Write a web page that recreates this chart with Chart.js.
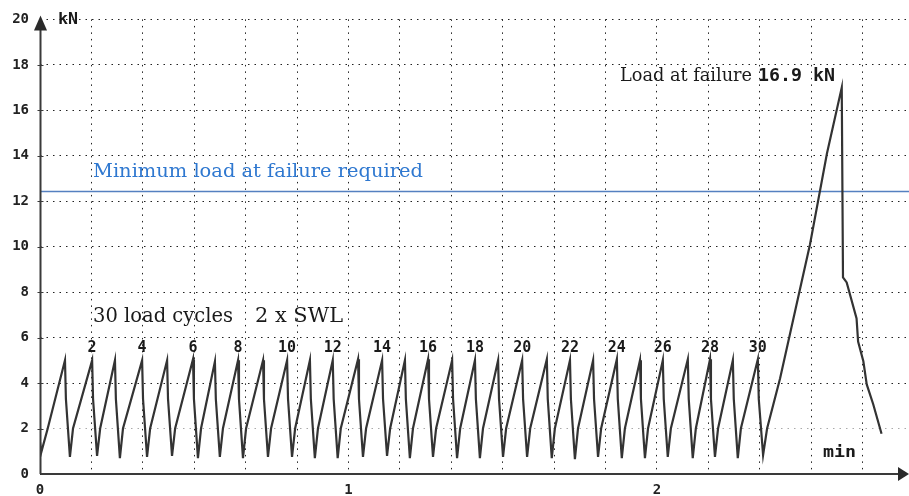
<!DOCTYPE html>
<html>
<head>
<meta charset="utf-8">
<script src="https://cdn.jsdelivr.net/npm/chart.js@4.4.1/dist/chart.umd.min.js"></script>
<style>
  html, body { margin: 0; padding: 0; background: #fff; }
  #wrap { width: 909px; height: 496px; }
</style>
</head>
<body>
<div id="wrap"><canvas id="loadChart" width="909" height="496"></canvas></div>
<script>
'use strict';

// Load test trace: time in minutes, load in kN
const startTimes = [0, 0.004, 0.025];
const startLoads = [1.4, 0.95, 2.0];

// the 30 load cycles (2 x SWL)
const peakTimes = [0.081, 0.169, 0.243, 0.331, 0.412, 0.496, 0.567, 0.642, 0.723, 0.801,
                   0.875, 0.949, 1.031, 1.109, 1.183, 1.258, 1.336, 1.410, 1.485, 1.563,
                   1.643, 1.718, 1.793, 1.870, 1.945, 2.019, 2.100, 2.172, 2.246, 2.327];
const peakLoads = [5.0, 5.0, 5.0, 5.0, 5.0, 5.05, 4.95, 5.0, 5.0, 5.0,
                   5.0, 5.0, 5.05, 5.0, 5.0, 5.05, 5.0, 5.0, 5.0, 5.0,
                   5.05, 5.0, 5.0, 5.05, 5.0, 5.0, 5.05, 5.05, 5.0, 5.05];
const minTimes = [0.097, 0.185, 0.259, 0.347, 0.428, 0.512, 0.583, 0.658, 0.739, 0.817,
                  0.891, 0.965, 1.047, 1.125, 1.199, 1.274, 1.352, 1.426, 1.501, 1.579,
                  1.659, 1.734, 1.809, 1.886, 1.961, 2.035, 2.116, 2.188, 2.262, 2.344];
const minLoads = [0.75, 0.8, 0.7, 0.75, 0.8, 0.7, 0.75, 0.7, 0.75, 0.75,
                  0.7, 0.7, 0.75, 0.8, 0.7, 0.75, 0.7, 0.7, 0.75, 0.75,
                  0.7, 0.65, 0.75, 0.7, 0.7, 0.75, 0.7, 0.75, 0.7, 0.83];
const dropLoad = 3.3;      // where the near-vertical fall after each peak ends
const shoulderLoad = 2.0;  // small kink on the way back up

// final ramp to failure and the fall after it
const failureTimes = [2.357, 2.399, 2.463, 2.496, 2.551, 2.599, 2.603, 2.615, 2.647, 2.652, 2.669, 2.680, 2.701, 2.728];
const failureLoads = [2.0, 4.2, 8.1, 10.1, 14.1, 17.0, 8.65, 8.43, 6.84, 5.83, 4.96, 3.94, 3.07, 1.77];

const requiredLoad = 12.43;
const cycleLabels = [2, 4, 6, 8, 10, 12, 14, 16, 18, 20, 22, 24, 26, 28, 30];
const xTickMinutes = [0, 1, 2];

const X_MAX = 2.817;
const GRID_STEP = 1 / 6;

// build the trace
var trace = [];
startTimes.forEach(function (t, i) { trace.push({ x: t, y: startLoads[i] }); });
peakTimes.forEach(function (t, i) {
  trace.push({ x: t, y: peakLoads[i] });
  trace.push({ x: t + 0.003, y: dropLoad });
  trace.push({ x: minTimes[i], y: minLoads[i] });
  if (i < peakTimes.length - 1) trace.push({ x: minTimes[i] + 0.01, y: shoulderLoad });
});
failureTimes.forEach(function (t, i) { trace.push({ x: t, y: failureLoads[i] }); });

// draws text at a fixed font size, squeezed or stretched sideways to the wanted width
function stretchText(ctx, text, x, y, width, font) {
  ctx.font = font;
  var w = ctx.measureText(text).width;
  ctx.save();
  ctx.translate(x, y);
  ctx.scale(width / w, 1);
  ctx.fillText(text, 0, 0);
  ctx.restore();
}

const decorations = {
  id: 'decorations',
  afterDatasetsDraw: function (chart) {
    const ctx = chart.ctx;
    const area = chart.chartArea;
    const xs = chart.scales.x, ys = chart.scales.y;
    const x0 = area.left + 0.5, y0 = area.bottom;
    ctx.save();

    // axes with arrow heads
    ctx.strokeStyle = '#3a3a3a';
    ctx.fillStyle = '#2a2a2a';
    ctx.lineWidth = 2;
    ctx.beginPath();
    ctx.moveTo(x0, y0); ctx.lineTo(x0, area.top + 10);
    ctx.moveTo(x0, y0); ctx.lineTo(area.right - 8, y0);
    ctx.stroke();
    ctx.beginPath();
    ctx.moveTo(x0, area.top - 4); ctx.lineTo(x0 - 6.5, area.top + 11); ctx.lineTo(x0 + 6.5, area.top + 11);
    ctx.closePath(); ctx.fill();
    ctx.beginPath();
    ctx.moveTo(area.right, y0); ctx.lineTo(area.right - 11, y0 - 7); ctx.lineTo(area.right - 11, y0 + 7);
    ctx.closePath(); ctx.fill();
    // small ticks on the load axis
    ctx.lineWidth = 1;
    for (var v = 2; v <= 18; v += 2) {
      var py = Math.round(ys.getPixelForValue(v)) + 0.5;
      ctx.beginPath(); ctx.moveTo(x0 - 3, py); ctx.lineTo(x0 + 3, py); ctx.stroke();
    }

    // cycle numbers over the even peaks
    ctx.fillStyle = '#1a1a1a';
    ctx.textAlign = 'center';
    ctx.textBaseline = 'middle';
    ctx.font = 'bold 15px "DejaVu Sans Mono"';
    cycleLabels.forEach(function (n) {
      ctx.fillText(String(n), xs.getPixelForValue(peakTimes[n - 1]), ys.getPixelForValue(5.52));
    });

    // texts
    ctx.textAlign = 'left';
    ctx.textBaseline = 'alphabetic';
    ctx.fillStyle = '#1a1a1a';
    stretchText(ctx, 'kN', 58, 24, 20, 'bold 16px "DejaVu Sans Mono"');
    stretchText(ctx, 'min', 823, 457, 33, 'bold 16px "DejaVu Sans Mono"');
    stretchText(ctx, '16.9 kN', 758, 81, 77, 'bold 18px "DejaVu Sans Mono"');
    stretchText(ctx, '30 load cycles', 93, 322, 140, '20px "DejaVu Serif"');
    stretchText(ctx, '2 x SWL', 255, 322, 88, '20px "DejaVu Serif"');
    stretchText(ctx, 'Load at failure', 620, 81, 132, '19px "DejaVu Serif"');
    ctx.fillStyle = '#2f78d0';
    stretchText(ctx, 'Minimum load at failure required', 93, 177, 330, '19px "DejaVu Serif"');
    ctx.restore();
  }
};

var ctx = document.getElementById('loadChart');
var loadChart = new Chart(ctx, {
  type: 'line',
  data: {
    datasets: [{
      label: 'Load',
      data: trace,
      borderColor: '#333',
      borderWidth: 2.2,
      pointRadius: 0,
      tension: 0
    }, {
      label: 'Minimum load at failure required',
      data: [{ x: 0, y: requiredLoad }, { x: X_MAX, y: requiredLoad }],
      borderColor: '#5580c0',
      borderWidth: 1.5,
      pointRadius: 0
    }]
  },
  options: {
    responsive: false,
    animation: false,
    devicePixelRatio: 1,
    layout: { padding: { top: 14, right: 0, left: 0, bottom: 0 } },
    plugins: { legend: { display: false }, tooltip: { enabled: false } },
    scales: {
      x: {
        type: 'linear',
        min: 0,
        max: X_MAX,
        afterBuildTicks: function (scale) {
          var t = [];
          for (var k = 0; k * GRID_STEP <= X_MAX; k++) t.push({ value: k * GRID_STEP });
          scale.ticks = t;
        },
        afterFit: function (scale) { scale.height = 22; },
        grid: { color: '#222', lineWidth: 1, drawTicks: false },
        border: { display: false, dash: [1.5, 5] },
        ticks: {
          autoSkip: false,
          maxRotation: 0,
          padding: 8,
          color: '#222',
          font: { family: 'DejaVu Sans Mono', weight: 'bold', size: 14 },
          callback: function (v) {
            var r = Math.round(v);
            return (Math.abs(v - r) < 1e-6 && xTickMinutes.indexOf(r) >= 0) ? String(r) : '';
          }
        }
      },
      y: {
        min: 0,
        max: 20,
        afterFit: function (scale) { scale.width = 40; },
        grid: {
          color: function (c) { return c.tick && c.tick.value === 2 ? '#aaa' : '#222'; },
          lineWidth: 1,
          drawTicks: false
        },
        border: { display: false, dash: [1.5, 5] },
        ticks: {
          stepSize: 2,
          padding: 11,
          color: '#222',
          font: { family: 'DejaVu Sans Mono', weight: 'bold', size: 14 }
        }
      }
    }
  },
  plugins: [decorations]
});
</script>
</body>
</html>
